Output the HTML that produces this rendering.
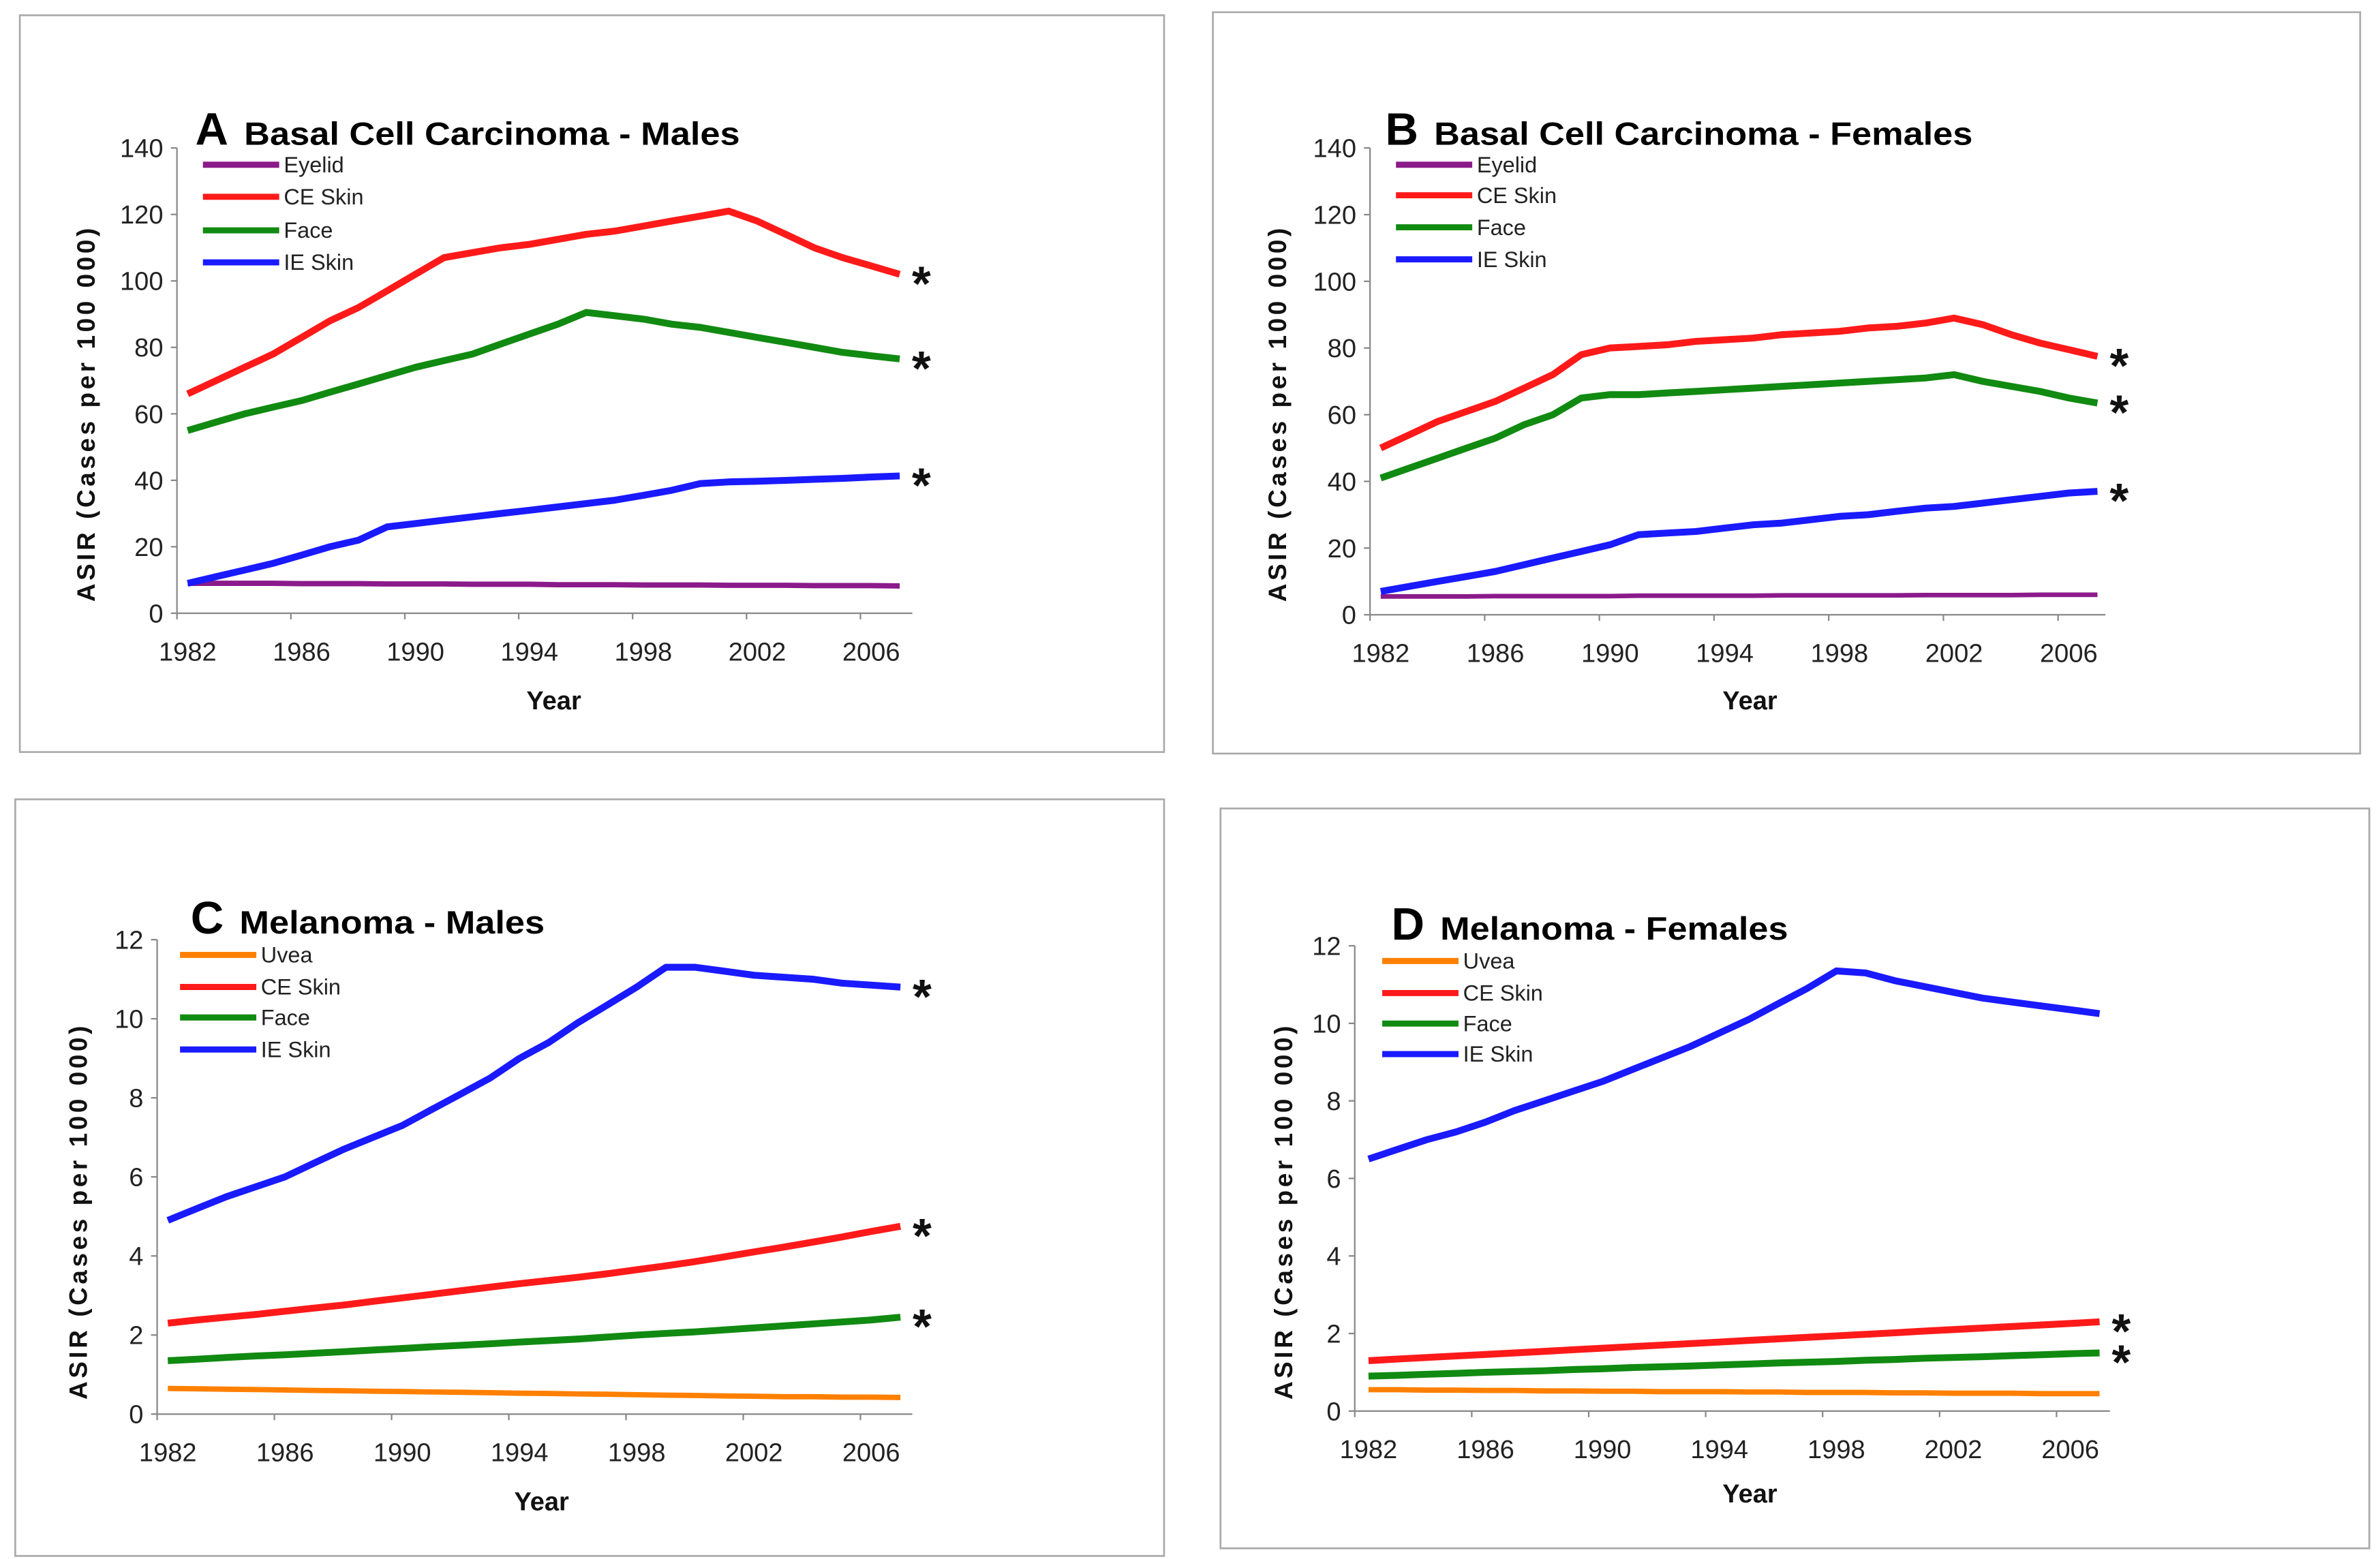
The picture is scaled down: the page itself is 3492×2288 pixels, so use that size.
<!DOCTYPE html>
<html><head><meta charset="utf-8">
<style>
html,body{margin:0;padding:0;background:#fff;}
svg{display:block;}
text{font-family:"Liberation Sans",Arial,sans-serif;}
</style></head>
<body>
<svg id="fig" width="3492" height="2288" viewBox="0 0 1560 1022" preserveAspectRatio="none" xmlns="http://www.w3.org/2000/svg"></svg>
<script>
const years = [1982,1983,1984,1985,1986,1987,1988,1989,1990,1991,1992,1993,1994,1995,1996,1997,1998,1999,2000,2001,2002,2003,2004,2005,2006,2007];
const xTickLabels = [1982,1986,1990,1994,1998,2002,2006];
const bccTicks = [0,20,40,60,80,100,120,140];
const melTicks = [0,2,4,6,8,10,12];

const aEyelid = [9,9,9,9,8.9,8.9,8.9,8.8,8.8,8.8,8.7,8.7,8.7,8.6,8.6,8.6,8.5,8.5,8.5,8.4,8.4,8.4,8.3,8.3,8.3,8.2];
const aCE = [66,70,74,78,83,88,92,97,102,107,108.5,110,111,112.5,114,115,116.5,118,119.5,121,118,114,110,107,104.5,102];
const aFace = [55,57.5,60,62,64,66.5,69,71.5,74,76,78,81,84,87,90.5,89.5,88.5,87,86,84.5,83,81.5,80,78.5,77.5,76.5];
const aIE = [9,11,13,15,17.5,20,22,26,27,28,29,30,31,32,33,34,35.5,37,39,39.5,39.7,40,40.3,40.6,41,41.3];

const bEyelid = [5.5,5.5,5.5,5.5,5.6,5.6,5.6,5.6,5.6,5.7,5.7,5.7,5.7,5.7,5.8,5.8,5.8,5.8,5.8,5.9,5.9,5.9,5.9,6,6,6];
const bCE = [50,54,58,61,64,68,72,78,80,80.5,81,82,82.5,83,84,84.5,85,86,86.5,87.5,89,87,84,81.5,79.5,77.5];
const bFace = [41,44,47,50,53,57,60,65,66,66,66.5,67,67.5,68,68.5,69,69.5,70,70.5,71,72,70,68.5,67,65,63.5];
const bIE = [7,8.5,10,11.5,13,15,17,19,21,24,24.5,25,26,27,27.5,28.5,29.5,30,31,32,32.5,33.5,34.5,35.5,36.5,37];

const cUvea = [0.65,0.64,0.63,0.62,0.61,0.6,0.59,0.58,0.57,0.56,0.55,0.54,0.53,0.52,0.51,0.5,0.49,0.48,0.47,0.46,0.45,0.44,0.44,0.43,0.43,0.42];
const cCE = [2.3,2.38,2.45,2.52,2.6,2.68,2.76,2.85,2.94,3.03,3.12,3.21,3.3,3.38,3.46,3.55,3.65,3.75,3.86,3.98,4.1,4.22,4.35,4.48,4.62,4.75];
const cFace = [1.35,1.39,1.43,1.47,1.5,1.54,1.58,1.62,1.66,1.7,1.74,1.78,1.82,1.86,1.9,1.95,2.0,2.04,2.08,2.13,2.18,2.23,2.28,2.33,2.38,2.45];
const cIE = [4.9,5.2,5.5,5.75,6.0,6.35,6.7,7.0,7.3,7.7,8.1,8.5,9.0,9.4,9.9,10.35,10.8,11.3,11.3,11.2,11.1,11.05,11.0,10.9,10.85,10.8];

const dUvea = [0.55,0.55,0.54,0.54,0.53,0.53,0.52,0.52,0.51,0.51,0.5,0.5,0.5,0.49,0.49,0.48,0.48,0.48,0.47,0.47,0.46,0.46,0.46,0.45,0.45,0.45];
const dCE = [1.3,1.34,1.38,1.42,1.46,1.5,1.54,1.58,1.62,1.66,1.7,1.74,1.78,1.82,1.86,1.9,1.94,1.98,2.02,2.06,2.1,2.14,2.18,2.22,2.26,2.3];
const dFace = [0.9,0.92,0.95,0.97,1.0,1.02,1.04,1.07,1.09,1.12,1.14,1.16,1.19,1.21,1.24,1.26,1.28,1.31,1.33,1.36,1.38,1.4,1.43,1.45,1.48,1.5];
const dIE = [6.5,6.75,7.0,7.2,7.45,7.75,8.0,8.25,8.5,8.8,9.1,9.4,9.75,10.1,10.5,10.9,11.35,11.3,11.1,10.95,10.8,10.65,10.55,10.45,10.35,10.25];

const NS='http://www.w3.org/2000/svg';
const svg=document.getElementById('fig');
function mk(tag,attrs,parent,txt){const e=document.createElementNS(NS,tag);for(const k in attrs)e.setAttribute(k,attrs[k]);if(txt!==undefined)e.textContent=txt;(parent||svg).appendChild(e);return e;}

const panels=[
 {id:'a',letter:'A',title:'Basal Cell Carcinoma - Males',titleLen:325,box:[13,10,750,483],axL:116,axR:598,x0:123,x06:571,yTop:97,yBot:402,yMax:140,ticks:bccTicks,
  titleX:128,titleY:95,legX:133,legY:[108,129,151,172],yTitleX:62,yTitleY:272,xTitleX:363,xTitleY:465,
  series:[['eyelid','Eyelid','#8b1a8b',aEyelid,3.5,false],['ce-skin','CE Skin','#ff1a1a',aCE,4.5,true],['face','Face','#118a11',aFace,4.5,true],['ie-skin','IE Skin','#1a1aff',aIE,4.5,true]]},
 {id:'b',letter:'B',title:'Basal Cell Carcinoma - Females',titleLen:353,box:[795,8,752,486],axL:898,axR:1380,x0:905,x06:1356,yTop:97,yBot:403,yMax:140,ticks:bccTicks,
  titleX:908,titleY:95,legX:915,legY:[108,128,149,170],yTitleX:843,yTitleY:272,xTitleX:1147,xTitleY:465,
  series:[['eyelid','Eyelid','#8b1a8b',bEyelid,3,false],['ce-skin','CE Skin','#ff1a1a',bCE,4.5,true],['face','Face','#118a11',bFace,4.5,true],['ie-skin','IE Skin','#1a1aff',bIE,4.5,true]]},
 {id:'c',letter:'C',title:'Melanoma - Males',titleLen:200,box:[10,524,753,496],axL:103,axR:598,x0:110,x06:571,yTop:616,yBot:927,yMax:12,ticks:melTicks,
  titleX:125,titleY:612,legX:118,legY:[626,647,667,688],yTitleX:57,yTitleY:795,xTitleX:355,xTitleY:990,
  series:[['uvea','Uvea','#ff8000',cUvea,3.5,false],['ce-skin','CE Skin','#ff1a1a',cCE,4.5,true],['face','Face','#118a11',cFace,4.5,true],['ie-skin','IE Skin','#1a1aff',cIE,4.5,true]]},
 {id:'d',letter:'D',title:'Melanoma - Females',titleLen:228,box:[800,530,753,485],axL:888,axR:1383,x0:897,x06:1357,yTop:620,yBot:925,yMax:12,ticks:melTicks,
  titleX:912,titleY:616,legX:906,legY:[630,651,671,691],yTitleX:847,yTitleY:795,xTitleX:1147,xTitleY:985,
  series:[['uvea','Uvea','#ff8000',dUvea,3.5,false],['ce-skin','CE Skin','#ff1a1a',dCE,4.5,true],['face','Face','#118a11',dFace,4.5,true],['ie-skin','IE Skin','#1a1aff',dIE,4.5,false]]}
];

panels.forEach(p=>{
  const g=mk('g',{});
  
  
  const fr=mk('rect',{x:p.box[0],y:p.box[1],width:p.box[2],height:p.box[3],fill:'#fff',stroke:'#aaa','stroke-width':1.2},g);
  
  
  const xs=v=>p.x0+(v-1982)*(p.x06-p.x0)/24;
  const ys=v=>p.yBot-v*(p.yBot-p.yTop)/p.yMax;
  const ya=mk('line',{x1:p.axL,y1:p.yTop,x2:p.axL,y2:p.yBot,stroke:'#888','stroke-width':1},g);
  
  
  const xa=mk('line',{x1:p.axL,y1:p.yBot,x2:p.axR,y2:p.yBot,stroke:'#888','stroke-width':1},g);
  
  
  p.ticks.forEach(t=>{
    mk('line',{x1:p.axL-4,y1:ys(t),x2:p.axL,y2:ys(t),stroke:'#888','stroke-width':1},g);
    const tl=mk('text',{x:p.axL-9,y:ys(t)+6,'text-anchor':'end','font-size':17,fill:'#222'},g,String(t));
    
    
  });
  const step=(p.x06-p.x0)/24;
  for(let i=0;i<=6;i++){const tx=p.axL+i*step*4;mk('line',{x1:tx,y1:p.yBot,x2:tx,y2:p.yBot+4,stroke:'#888','stroke-width':1},g);}
  xTickLabels.forEach(t=>{
    const tl=mk('text',{x:xs(t),y:p.yBot+31,'text-anchor':'middle','font-size':17,fill:'#222'},g,String(t));
    
    
  });
  const yt=mk('text',{x:p.yTitleX,y:p.yTitleY,'text-anchor':'middle','font-size':16.5,'font-weight':'bold',fill:'#111',textLength:245,lengthAdjust:'spacing',transform:`rotate(-90 ${p.yTitleX} ${p.yTitleY})`},g,'ASIR (Cases per 100 000)');
  
  
  const xt=mk('text',{x:p.xTitleX,y:p.xTitleY,'text-anchor':'middle','font-size':17,'font-weight':'bold',fill:'#111'},g,'Year');
  
  
  const tl=mk('text',{x:p.titleX,y:p.titleY,'font-weight':'bold',fill:'#000','font-size':30},g,p.letter);
  
  
  const tt=mk('text',{x:p.titleX+32,y:p.titleY,'font-weight':'bold',fill:'#000','font-size':21,textLength:p.titleLen,lengthAdjust:'spacingAndGlyphs'},g,p.title);
  
  
  p.series.forEach((s,i)=>{
    const pts=s[3].map((v,j)=>xs(years[j]).toFixed(1)+','+ys(v).toFixed(1)).join(' ');
    const pl=mk('polyline',{points:pts,fill:'none',stroke:s[2],'stroke-width':s[4],'stroke-linejoin':'round'},g);
    
    
    const ll=mk('line',{x1:p.legX,y1:p.legY[i],x2:p.legX+50,y2:p.legY[i],stroke:s[2],'stroke-width':4},g);
    
    
    const lt=mk('text',{x:p.legX+53,y:p.legY[i]+5,'font-size':14.5,fill:'#222'},g,s[1]);
    
    
    if(s[5]){
      const last=s[3][s[3].length-1];
      const as=mk('text',{x:xs(2007)+8,y:ys(last)+17,'font-size':32,'font-weight':'bold',fill:'#111'},g,'*');
      
      
    }
  });
});
</script>
</body></html>
